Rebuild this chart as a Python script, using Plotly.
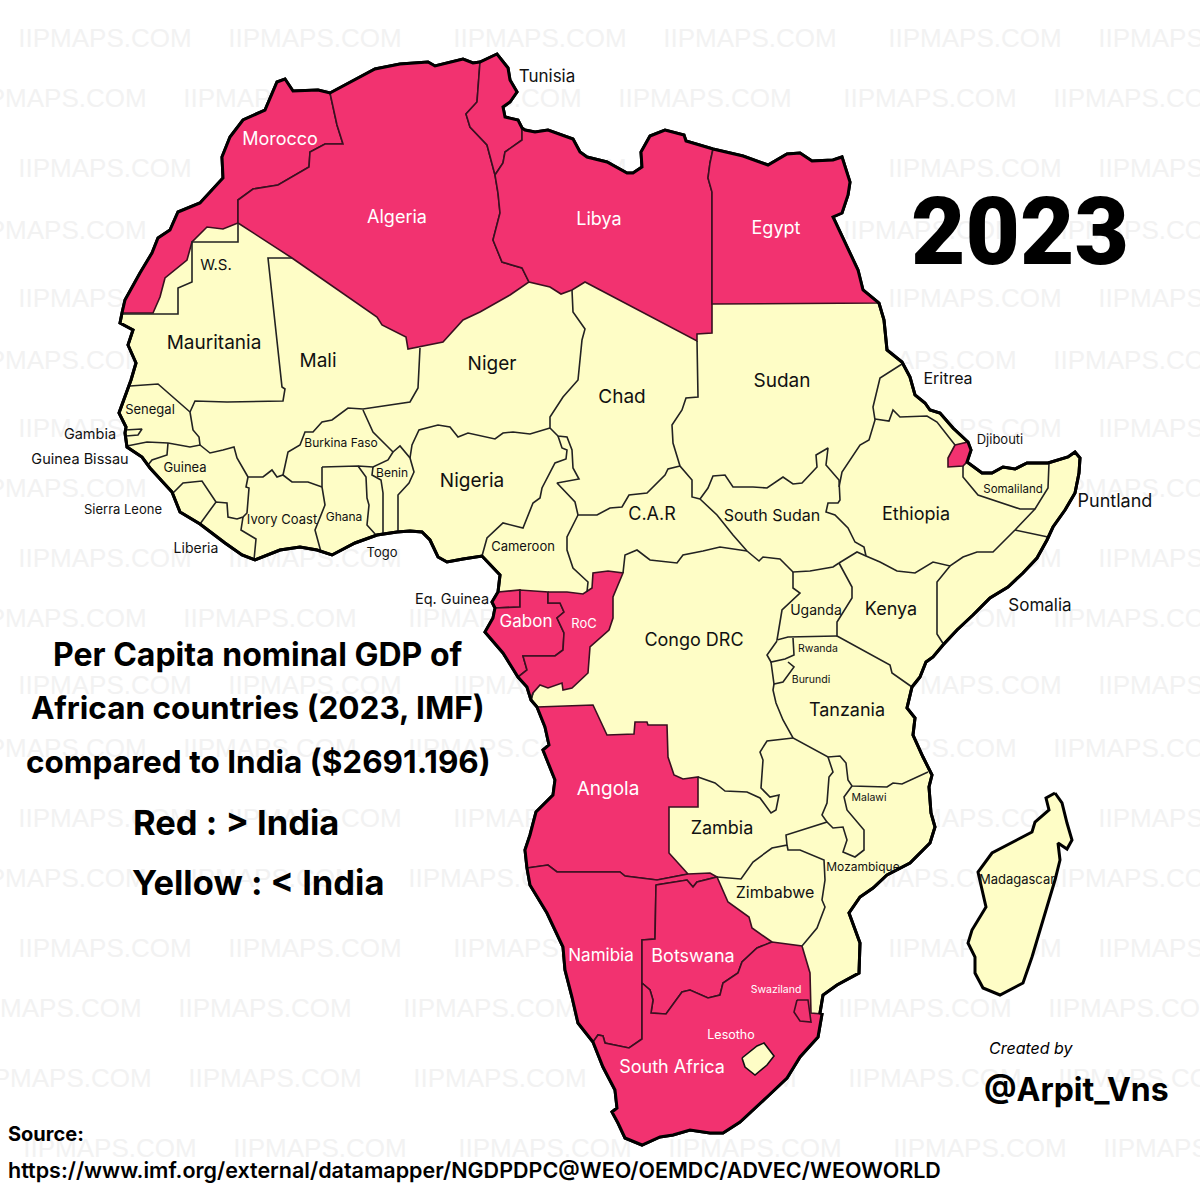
import plotly.graph_objects as go

# ---- map outlines (coast sections) ----
C_MOROCCO = [(122,313),(125,300),(140,273),(152,253),(158,238),(170,230),(178,212),(200,203),(223,178),(222,157),(230,137),(243,120),(265,110),(277,82),(285,79),(293,91),(318,90),(330,93)]
C_ALGERIA = [(330,93),(375,69),(400,64),(428,62),(435,66),(463,59),(473,63),(480,62)]
C_TUNISIA = [(480,62),(497,54),(508,68),(510,80),(517,92),(510,102),(503,107),(505,117),(518,120),(522,128)]
C_LIBYA = [(522,128),(525,130),(535,132),(548,130),(573,139),(580,152),(587,157),(607,162),(627,173),(633,173),(642,167),(641,152),(650,136),(665,130),(684,135),(686,141),(700,145),(713,149)]
C_EGYPT = [(713,149),(743,156),(768,165),(787,154),(800,153),(812,161),(833,160),(842,157),(850,182),(848,195),(842,213),(833,217),(858,270),(863,290),(879,303)]
C_EAST = [(879,303),(884,320),(887,350),(902,362),(910,377),(915,395),(925,403),(930,410),(940,413),(953,428),(968,442),(971,450),(967,462),(982,473),(992,473),(1003,467),(1015,469),(1027,463),(1048,463),(1068,457),(1075,452),(1080,458),(1079,473),(1075,493),(1065,510),(1053,527),(1047,540),(1037,558),(1023,573),(1008,587),(990,598),(973,615),(957,630),(943,645),(933,657),(926,662),(920,677),(912,687),(907,708),(915,718),(913,735),(923,757),(932,775),(929,787),(931,813),(935,827),(930,843),(910,863),(887,875),(873,888),(860,897),(849,913),(860,943),(859,973),(837,985),(823,995),(820,1013),(822,1014)]
C_SOUTH = [(822,1014),(818,1037),(800,1057),(787,1078),(767,1097),(740,1122),(723,1133),(710,1133),(690,1130),(673,1135),(660,1137),(642,1145),(625,1138),(618,1123),(612,1112),(617,1108),(615,1090),(603,1067),(593,1042)]
C_NAMIBIA = [(593,1042),(578,1023),(572,997),(565,970),(563,947),(547,913),(530,885),(527,868)]
C_ANGOLA = [(527,868),(525,850),(530,835),(536,812),(553,795),(555,780),(543,750),(549,745),(545,727),(537,707)]
C_CONGO = [(537,707),(531,700),(527,687),(518,677)]
C_GABON = [(518,677),(503,653),(485,632),(493,618),(495,608)]
C_EQG = [(495,608),(492,602),(498,592)]
C_WEST = [(498,592),(500,575),(487,562),(482,556),(463,559),(447,562),(438,557),(430,540),(422,532),(410,531),(397,532),(377,535),(355,543),(332,555),(317,550),(300,547),(280,550),(255,560),(242,555),(225,543),(200,524),(180,512),(172,492),(150,468),(142,457),(127,447),(125,433),(126,427),(119,413),(128,388),(131,380),(136,363),(128,345),(133,330),(120,323),(122,313)]
MADAGASCAR = [(1055,793),(1046,798),(1049,810),(1035,822),(1032,832),(992,853),(978,872),(986,907),(972,930),(968,943),(975,957),(975,973),(983,988),(1000,995),(1023,983),(1032,957),(1055,880),(1060,860),(1058,843),(1067,849),(1072,840),(1067,823),(1062,803),(1055,793)]

# ---- shared borders of the northern countries ----
B_MA_DZ = [(330,93),(337,125),(343,144),(325,144),(310,152),(309,167),(278,185),(253,189),(238,200),(238,223)]
B_MA_WS = [(238,223),(223,229),(207,227),(192,242),(187,260),(165,278),(160,297),(153,313),(122,313)]
B_DZ_TN = [(480,62),(477,102),(466,114),(470,127),(487,145),(495,175)]
B_TN_LY = [(522,128),(522,140),(505,152),(503,163),(495,175)]
B_DZ_LY = [(495,175),(498,193),(500,213),(493,240),(502,262),(522,268),(529,282)]
B_DZ_S = [(529,282),(510,295),(480,312),(463,320),(443,342),(408,349),(406,337),(382,325),(377,317),(292,258),(238,223)]
B_LY_EG = [(713,149),(710,163),(708,178),(712,192),(712,304)]
B_LY_S = [(712,304),(712,333),(697,334),(697,341),(585,282),(572,290),(561,294),(550,287),(529,282)]
B_EG_SD = [(879,303),(712,304)]

# ---- red countries (GDP per capita above India) ----
RED = {
    "Morocco": C_MOROCCO + B_MA_DZ + B_MA_WS,
    "Algeria": C_ALGERIA + B_DZ_TN + B_DZ_LY + B_DZ_S + B_MA_DZ[::-1],
    "Tunisia": C_TUNISIA + B_TN_LY + B_DZ_TN[::-1],
    "Libya": C_LIBYA + B_LY_EG + B_LY_S + B_DZ_LY[::-1] + B_TN_LY[::-1],
    "Egypt": C_EGYPT + B_EG_SD + B_LY_EG[::-1],
    "Djibouti": [(955,445),(968,442),(971,450),(967,462),(963,466),(948,467),(948,458),(955,445)],
    "Eq. Guinea": [(498,592),(520,590),(520,607),(495,608),(492,602),(498,592)],
    "Gabon": C_GABON + [(520,607),(520,590),(548,592),(548,603),(560,603),(564,612),(557,618),(564,633),(563,650),(555,656),(523,656),(527,670),(518,677)],
    "RoC": [(548,592),(567,592),(583,594),(592,588),(593,573),(608,571),(623,573),(613,597),(613,618),(609,630),(590,647),(588,673),(572,688),(563,690),(562,683),(548,688),(540,685),(533,693),(531,700),(527,687),(518,677),(527,670),(523,656),(555,656),(563,650),(564,633),(557,618),(564,612),(560,603),(548,603),(548,592)],
    "Angola": [(537,707),(593,705),(607,735),(634,734),(635,722),(647,722),(648,725),(667,725),(668,757),(674,775),(683,779),(698,777),(698,807),(669,807),(669,853),(688,874),(657,880),(625,876),(620,872),(557,872),(548,865)] + C_ANGOLA,
    "Namibia": [(527,868),(548,865),(557,872),(620,872),(625,876),(657,880),(688,874),(710,873),(717,877),(697,882),(693,887),(687,880),(656,885),(655,939),(642,940),(642,1039),(629,1048),(605,1043),(603,1036),(598,1035)] + C_NAMIBIA,
    "Botswana": [(656,885),(687,880),(693,887),(697,882),(717,877),(728,902),(749,917),(752,928),(772,942),(757,948),(742,962),(738,973),(723,983),(720,995),(708,998),(690,990),(682,992),(666,1014),(651,1013),(653,1000),(650,990),(642,983),(642,940),(655,939),(656,885)],
    "South Africa": [(772,942),(802,946),(810,973),(811,1013)] + C_SOUTH + [(598,1035),(603,1036),(605,1043),(629,1048),(642,1039),(642,983),(650,990),(653,1000),(651,1013),(666,1014),(682,992),(690,990),(708,998),(720,995),(723,983),(738,973),(742,962),(757,948),(772,942)],
    "Swaziland": [(797,1000),(808,1000),(811,1022),(800,1021),(794,1012),(797,1000)],
}
LESOTHO = [(742,1058),(757,1046),(764,1043),(774,1056),(767,1065),(755,1075),(745,1067),(742,1058)]

# ---- borders between yellow countries ----
BORDERS = [
    [(238,223),(238,242),(192,242),(192,282),(178,288),(178,314),(121,314)],
    [(292,258),(268,258),(282,387),(285,389),(283,401),(227,402),(195,401),(190,412),(193,430),(199,437),(200,445)],
    [(130,386),(158,384),(190,412)],
    [(420,348),(419,370),(418,388),(410,402),(363,409),(348,408),(332,420),(322,422),(313,432),(305,432),(300,445),(288,452),(283,475)],
    [(125,430),(142,429),(138,435),(126,436)],
    [(127,446),(147,442),(168,443),(190,447),(200,445),(210,453),(223,450),(234,447),(237,458),(248,477)],
    [(168,443),(167,455),(152,460),(148,465)],
    [(248,477),(263,477),(272,470),(277,477),(283,475),(292,482),(308,482),(322,487)],
    [(248,477),(246,487),(249,488),(247,513),(243,517),(237,519),(228,517),(227,503),(216,502),(200,524)],
    [(173,493),(183,483),(202,481),(216,502)],
    [(243,517),(241,530),(256,539),(254,560)],
    [(322,467),(322,487),(325,505),(315,530),(321,552)],
    [(322,467),(358,466),(373,467),(388,460),(393,452)],
    [(363,410),(373,432),(393,452),(400,446),(410,458),(414,472),(409,483),(398,495),(398,531)],
    [(358,466),(366,477),(367,498),(369,505),(367,525),(376,535)],
    [(373,467),(372,475),(381,480),(383,493),(383,533)],
    [(410,458),(412,445),(419,430),(438,425),(450,427),(458,437),(468,433),(495,439),(503,433),(513,432),(530,434),(550,428)],
    [(572,290),(573,312),(585,329),(582,340),(578,380),(563,397),(550,417),(550,428),(558,436),(567,437),(572,450),(573,468),(579,479),(557,483),(575,502),(578,515)],
    [(558,436),(562,448),(567,450),(566,459),(555,463),(548,477),(542,488),(540,498),(533,503),(523,528),(503,523),(487,538),(482,556)],
    [(578,515),(567,537),(567,550),(573,568),(588,582),(587,592)],
    [(578,515),(597,515),(610,508),(622,507),(629,495),(647,493),(665,475),(668,469),(680,466)],
    [(697,341),(698,397),(686,398),(682,410),(672,425),(673,443),(680,466),(692,480),(692,497),(700,499)],
    [(700,499),(708,488),(713,476),(725,475),(733,487),(753,487),(767,488),(783,477),(793,484),(802,483),(817,467),(816,455),(828,448),(826,465),(839,480),(840,500),(838,503),(828,503),(826,512),(835,515),(848,528),(855,542),(864,547),(866,556)],
    [(839,487),(842,472),(860,445),(869,440),(875,420),(873,407),(880,378),(902,364)],
    [(875,419),(889,421),(893,410),(900,417),(927,416),(937,422),(955,445)],
    [(963,466),(963,477),(978,495),(1020,509),(1035,509),(1048,488),(1049,463)],
    [(1035,509),(1015,530),(993,552),(977,552),(963,557),(950,566),(933,562),(915,573),(897,571),(880,562),(866,556),(857,552),(839,563)],
    [(1015,530),(1048,537)],
    [(950,566),(937,582),(937,634),(944,645)],
    [(839,563),(852,587),(852,598),(837,622),(837,636),(890,665),(892,673),(912,687)],
    [(700,499),(717,515),(733,535),(747,551),(759,561),(763,557),(780,559),(793,572),(810,571),(833,567),(839,563)],
    [(747,551),(720,547),(703,551),(683,555),(677,563),(650,560),(637,550),(625,555),(623,573)],
    [(793,572),(793,588),(800,593),(782,610),(777,640),(788,637),(837,636)],
    [(777,641),(767,655),(771,662),(785,659),(794,655),(793,638)],
    [(771,662),(774,684),(783,682),(794,667),(788,662)],
    [(774,684),(773,690),(776,703),(783,720),(793,738),(828,757),(840,756),(846,763),(848,780),(852,786),(887,787),(893,783),(902,784),(928,772)],
    [(852,786),(844,797),(847,810),(864,830),(864,850),(855,857),(843,852),(847,840),(843,827),(833,828),(827,822)],
    [(828,757),(833,772),(829,777),(827,803),(822,815),(827,822),(786,835),(787,845),(772,848),(753,862),(741,879),(717,877)],
    [(787,845),(788,850),(800,850),(824,860),(825,880),(822,900),(825,907),(817,928),(802,946)],
    [(793,738),(767,741),(760,752),(763,760),(761,788),(770,797),(779,795),(776,810),(771,813),(760,798),(747,792),(725,791),(715,783),(698,777)],
    [(537,707),(531,700),(533,693)],
]

# ---- labels ----
LABELS = ["Tunisia","Morocco","Algeria","Libya","Egypt","W.S.","Mauritania","Mali","Niger","Chad","Sudan","Eritrea","Senegal","Gambia","Guinea Bissau","Burkina Faso","Djibouti","Guinea","Benin","Nigeria","Ghana","Ivory Coast","Sierra Leone","Liberia","Togo","Cameroon","C.A.R","South Sudan","Ethiopia","Somaliland","Puntland","Somalia","Kenya","Uganda","Eq. Guinea","Gabon","RoC","Congo DRC","Rwanda","Burundi","Tanzania","Angola","Zambia","Malawi","Mozambique","Zimbabwe","Madagascar","Namibia","Botswana","Swaziland","Lesotho","South Africa"]
LABEL_X = [547,280,397,599,776,216,214,318,492,622,782,948,150,90,80,341,1000,185,392,472,344,282,123,196,382,523,652,772,916,1013,1115,1040,891,816,452,526,584,694,818,811,847,608,722,869,863,775,1017,601,693,776,731,672]
LABEL_Y = [78,140,218,220,229,266,344,362,365,398,382,380,411,435,460,444,441,469,474,482,518,521,511,549,554,548,515,517,515,490,502,607,610,611,600,623,625,641,649,680,711,790,829,798,868,894,881,957,957,990,1036,1068]
LABEL_SIZE = [17,18,18,18,18,15,19,19,19,19,19,16,13,14.5,14.5,12,13,13,12,19,12,13,13,14,13,13,18,16,18,11.5,18,17,18,14,14.5,17,13,18,10.5,10.5,18,19,18,10.5,12,16,13,17,18,10.5,12.5,18]
WHITE_LABELS = {"Morocco","Algeria","Libya","Egypt","Gabon","RoC","Angola","Namibia","Botswana","Swaziland","Lesotho","South Africa"}

WATERMARK = "IIPMAPS.COM"
WM_ROW_Y = [40,100,170,232,300,362,430,490,560,620,687,750,820,880,950,1010,1080,1150]
WM_ROW_X0 = [105,60,105,60,105,60,105,60,105,60,105,60,105,60,105,55,65,110]
WM_STEP = [0,210,435,645,870,1080]

TEXTS = [
    ("2023",1020,232,94,900,"center","Roboto"),
    ("Per Capita nominal GDP of",258,654,32,700,"center","Inter"),
    ("African countries (2023, IMF)",258,707,31.5,700,"center","Inter"),
    ("compared to India ($2691.196)",258,761,31.5,700,"center","Inter"),
    ("Red : > India",236,822,34.5,700,"center","Inter"),
    ("Yellow : < India",258,882,34.5,700,"center","Inter"),
    ("@Arpit_Vns",1076,1089,32,700,"center","Inter"),
    ("Source:",6,1134,20,700,"left","Inter"),
    ("https://www.imf.org/external/datamapper/NGDPDPC@WEO/OEMDC/ADVEC/WEOWORLD",6,1170,21.5,600,"left","Inter"),
]
CREDIT = ("Created by",1031,1048,16)

RED_FILL = "#F23270"
YELLOW_FILL = "#FEFDC6"
FONT = "Inter"

def xs(p): return [a for a, _ in p]
def ys(p): return [b for _, b in p]

COAST = C_MOROCCO + C_ALGERIA + C_TUNISIA + C_LIBYA + C_EGYPT + C_EAST + C_SOUTH + C_NAMIBIA + C_ANGOLA + C_CONGO + C_GABON + C_EQG + C_WEST

def inside(px, py, poly):
    hit = False
    for (x1, y1), (x2, y2) in zip(poly, poly[1:] + poly[:1]):
        if (y1 > py) != (y2 > py) and px < x1 + (py - y1) * (x2 - x1) / (y2 - y1):
            hit = not hit
    return hit

fig = go.Figure()

# the watermark lies behind the land, so copies wholly under it are not drawn
wm = [(x0 + d, y0) for y0, x0 in zip(WM_ROW_Y, WM_ROW_X0) for d in WM_STEP]
wm = [(x, y) for x, y in wm if not all(inside(x + o, y, COAST) for o in (-85, 0, 85))]
fig.add_trace(go.Scatter(x=xs(wm), y=ys(wm), mode="text", text=[WATERMARK] * len(wm), textposition="middle center",
                         textfont=dict(family="Liberation Sans", size=26, color="#f2f2f2"),
                         hoverinfo="skip", showlegend=False))

def area(p, fill, color="#222222", width=1.6, name=""):
    fig.add_trace(go.Scatter(x=xs(p), y=ys(p), mode="lines", fill="toself", fillcolor=fill,
                             line=dict(color=color, width=width, shape="linear"), hoverinfo="skip",
                             showlegend=False, name=name))

area(COAST, YELLOW_FILL, "#000000", 3, "Africa")
area(MADAGASCAR, YELLOW_FILL, "#000000", 3, "Madagascar")
for nm, poly in RED.items():
    area(poly, RED_FILL, "#3a1020", 1.6, nm)
area(LESOTHO, YELLOW_FILL, "#111111", 1.6, "Lesotho")
for b in BORDERS:
    fig.add_trace(go.Scatter(x=xs(b), y=ys(b), mode="lines", line=dict(color="#222222", width=1.6),
                             hoverinfo="skip", showlegend=False))
fig.add_trace(go.Scatter(x=xs(COAST), y=ys(COAST), mode="lines", line=dict(color="#000000", width=3),
                         hoverinfo="skip", showlegend=False))

fig.add_trace(go.Scatter(x=LABEL_X, y=LABEL_Y, mode="text", text=LABELS, textposition="middle center",
                         textfont=dict(family=FONT, size=LABEL_SIZE,
                                       color=["#ffffff" if t in WHITE_LABELS else "#111111" for t in LABELS]),
                         hoverinfo="skip", showlegend=False))

anns = []
for t, x, y, s, w, al, fam in TEXTS:
    anns.append(dict(x=x, y=y, text=t, showarrow=False, xref="x", yref="y", xanchor=al,
                     font=dict(family=fam, size=s, weight=w, color="#000000")))
anns.append(dict(x=CREDIT[1], y=CREDIT[2], text="<i>%s</i>" % CREDIT[0], showarrow=False, xref="x", yref="y",
                 font=dict(family=FONT, size=CREDIT[3], color="#000000")))

fig.update_layout(width=1200, height=1200, margin=dict(l=0, r=0, t=0, b=0),
                  paper_bgcolor="#ffffff", plot_bgcolor="#ffffff", annotations=anns,
                  xaxis=dict(range=[0, 1200], visible=False, fixedrange=True),
                  yaxis=dict(range=[1200, 0], visible=False, fixedrange=True))

fig.write_html("out.html", config={"displayModeBar": False},
               post_script="document.body.style.margin='0';")
